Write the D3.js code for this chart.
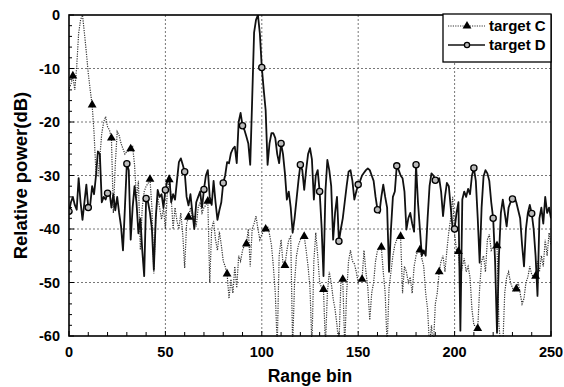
<!DOCTYPE html>
<html>
<head>
<meta charset="utf-8">
<script src="https://cdn.jsdelivr.net/npm/d3@7"></script>
<style>
  body { margin: 0; background: #fff; }
  text { font-family: "Liberation Sans", Arial, sans-serif; font-weight: bold; fill: #000; }
</style>
</head>
<body>
<svg id="chart"></svg>
<script>
// Range bins 0..250
const bins = d3.range(0, 251);

// Relative power (dB) of target C (dotted, triangles)
const targetC = [
  -13.7, -13, -11.4, -14, -9.6, -3.4, -0.9, 0, -3.4, -7,
  -10.9, -14, -16.8, -22.1, -29.6, -30, -26.5, -22.1, -20, -19,
  -20.9, -21.5, -23, -37, -28, -21.8, -22.5, -24, -25, -26,
  -25.5, -25.5, -25, -24.6, -28, -34.5, -31, -43.9, -36, -33,
  -32, -31.5, -30.7, -36, -48.3, -38, -34, -36, -38.2, -36,
  -40, -33, -30.8, -34, -40, -36, -38.5, -40, -37, -41,
  -47.3, -39, -37.8, -36, -38, -37.5, -39.5, -36, -35, -37,
  -36, -35.5, -34.8, -50, -40, -38.5, -42, -44, -40.5, -43,
  -46, -47, -48.4, -53, -49.4, -52, -47, -51, -45, -46,
  -44, -43, -42.8, -40, -47, -40, -39, -37.6, -40, -42,
  -41, -40.5, -40, -39.5, -41, -43, -47, -52, -62, -45,
  -42, -46.5, -46.8, -44, -42, -41.4, -62, -50, -45, -43,
  -42, -41.5, -41.4, -44, -47, -51, -62, -46, -40.7, -45,
  -50, -51, -51.3, -62, -52, -48, -50, -53, -55, -58,
  -62, -50, -49.4, -62, -52, -46, -44, -46, -46.5, -48,
  -50, -49.5, -49.4, -44, -48, -51, -57, -52, -50, -46,
  -44, -43.5, -43.4, -48, -52, -62, -51, -48, -45, -43,
  -42, -41.5, -41.4, -52, -47, -48, -50, -49, -52, -47,
  -45, -44, -43.9, -45.5, -47, -52, -55, -62, -58, -62,
  -54, -52, -48, -46, -45, -48, -44, -40.5, -38, -34,
  -41, -44, -44.2, -49, -47, -45.5, -48, -47, -49, -55,
  -58, -58, -58.6, -51, -46, -45, -48, -42, -41, -44,
  -43.5, -43, -43.1, -58, -62, -62, -52, -49, -48, -50,
  -51, -51.5, -51.2, -50, -52, -54, -53, -50, -49, -47,
  -48.5, -49, -48.8, -46, -48, -45, -47, -42, -45, -40.7,
  -43
];

// Relative power (dB) of target D (solid, circles)
const targetD = [
  -36.7, -35, -34, -35.5, -36.4, -30.5, -35, -38.3, -35, -31.7,
  -36, -35.5, -32, -33.5, -30, -25.5, -26, -35, -34, -34.5,
  -33.3, -33, -36, -33.5, -36.5, -34, -37, -39.5, -44, -36,
  -27.8, -29, -42, -36, -32, -35, -40.8, -38, -44, -48.8,
  -34.3, -35, -37, -40, -47.6, -38, -32.7, -34, -33.5, -36,
  -32.7, -31, -30, -35, -33.5, -34.5, -31, -27.5, -26.8, -28,
  -29.3, -34, -35.6, -33.5, -37, -40, -35, -34, -33, -36,
  -32.6, -30, -29, -34, -35.5, -31, -35, -38.3, -36.5, -35,
  -31.4, -30, -27.5, -27.7, -25.8, -25, -24.6, -27.7, -20, -18.3,
  -20.7, -21.5, -22.7, -24, -28, -15.9, -3.3, -0.9, 0, -3.5,
  -9.8, -14, -17.8, -28, -24, -22.1, -22.1, -23, -26, -27.7,
  -24, -26, -29.6, -34.5, -33, -36, -40.7, -38, -34.5, -31,
  -28, -29, -32.7, -29, -26, -24.9, -27, -34.5, -30, -29,
  -33, -39.5, -48.8, -33, -27.1, -29, -32, -42, -37, -34,
  -42.3, -40, -38, -35, -32, -29.3, -29, -31, -34.5, -33,
  -31.7, -31, -30, -29.5, -29, -28.7, -29, -30, -31, -34,
  -36.4, -37, -34, -31.7, -34, -36, -48, -40, -34, -33,
  -28.2, -29, -30, -30.5, -33, -40.1, -38, -37, -39, -40.5,
  -28, -35, -40, -45, -44, -45, -38, -32, -29.6, -30,
  -30.9, -31, -30.5, -33, -37.6, -34, -31.4, -32, -36, -40,
  -40, -37, -35, -59, -34.5, -33, -34, -32.5, -33.5, -30,
  -28.6, -31, -38, -46.3, -36, -30.2, -29, -29.6, -31, -35,
  -38, -46, -59.4, -45, -37, -34.5, -37, -39.5, -36, -35,
  -34.4, -34, -35, -36.5, -38, -43, -47, -40, -37, -35.5,
  -37.1, -40, -45, -52.5, -38, -36, -39, -34, -37, -36,
  -38
];

const xTicks = [0, 50, 100, 150, 200, 250];
const yTicks = [0, -10, -20, -30, -40, -50, -60];
const seriesNames = ['target C', 'target D'];

const W = 564, H = 387;
const margin = {top: 15, right: 13, bottom: 51, left: 69};
const width = W - margin.left - margin.right;
const height = H - margin.top - margin.bottom;

const svg = d3.select('#chart')
  .attr('width', W)
  .attr('height', H);

const g = svg.append('g')
  .attr('transform', `translate(${margin.left},${margin.top})`);

const x = d3.scaleLinear().domain([0, 250]).range([0, width]);
const y = d3.scaleLinear().domain([-60, 0]).range([height, 0]);

// grid lines
g.append('g')
  .selectAll('line')
  .data(xTicks.slice(1, -1))
  .join('line')
  .attr('x1', d => x(d)).attr('x2', d => x(d))
  .attr('y1', 0).attr('y2', height)
  .attr('stroke', '#777')
  .attr('stroke-width', 1)
  .attr('stroke-dasharray', '2,2');

g.append('g')
  .selectAll('line')
  .data(yTicks.slice(1, -1))
  .join('line')
  .attr('x1', 0).attr('x2', width)
  .attr('y1', d => y(d)).attr('y2', d => y(d))
  .attr('stroke', '#777')
  .attr('stroke-width', 1)
  .attr('stroke-dasharray', '2,2');

// clip for data
svg.append('defs').append('clipPath').attr('id', 'clip')
  .append('rect').attr('width', width).attr('height', height + 1);

const plot = g.append('g').attr('clip-path', 'url(#clip)');

const line = d3.line().x((d, i) => x(bins[i])).y(d => y(d));

plot.append('path')
  .datum(targetC)
  .attr('d', line)
  .attr('fill', 'none')
  .attr('stroke', '#333')
  .attr('stroke-width', 1.2)
  .attr('stroke-dasharray', '1.2,1.2');

plot.append('path')
  .datum(targetD)
  .attr('d', line)
  .attr('fill', 'none')
  .attr('stroke', '#111')
  .attr('stroke-width', 1.8)
  .attr('stroke-linejoin', 'round');

const tri = d3.symbol().type(d3.symbolTriangle).size(34);

// markers C every 10 bins
plot.selectAll('.mc')
  .data(bins.filter(b => b % 10 === 2))
  .join('path')
  .attr('class', 'mc')
  .attr('d', tri)
  .attr('transform', b => `translate(${x(b)},${y(targetC[b])})`)
  .attr('fill', '#000');

// markers D every 10 bins
plot.selectAll('.md')
  .data(bins.filter(b => b % 10 === 0 && b < 250))
  .join('circle')
  .attr('class', 'md')
  .attr('cx', b => x(b))
  .attr('cy', b => y(targetD[b]))
  .attr('r', 3.1)
  .attr('fill', '#bbb')
  .attr('stroke', '#000')
  .attr('stroke-width', 1.3);

// axes with inward ticks
const xAxis = g.append('g').attr('transform', `translate(0,${height})`);
xAxis.selectAll('line')
  .data(d3.range(0, 251, 10))
  .join('line')
  .attr('x1', d => x(d)).attr('x2', d => x(d))
  .attr('y1', 0).attr('y2', d => d % 50 === 0 ? -5 : -4)
  .attr('stroke', '#000').attr('stroke-width', 1);
xAxis.selectAll('text')
  .data(xTicks)
  .join('text')
  .attr('x', d => x(d))
  .attr('y', 21)
  .attr('text-anchor', 'middle')
  .style('font-size', '14.5px')
  .text(d => d);

const yAxis = g.append('g');
yAxis.selectAll('line')
  .data(d3.range(-60, 1, 2))
  .join('line')
  .attr('x1', 0).attr('x2', d => d % 10 === 0 ? 5 : 3)
  .attr('y1', d => y(d)).attr('y2', d => y(d))
  .attr('stroke', '#000').attr('stroke-width', 1);
yAxis.selectAll('text')
  .data(yTicks)
  .join('text')
  .attr('x', -9)
  .attr('y', d => y(d) + 5)
  .attr('text-anchor', 'end')
  .style('font-size', '14.5px')
  .text(d => d);

// frame
g.append('rect')
  .attr('width', width).attr('height', height)
  .attr('fill', 'none')
  .attr('stroke', '#000')
  .attr('stroke-width', 1.6);

// axis titles
svg.append('text')
  .attr('x', margin.left + width / 2)
  .attr('y', 382)
  .attr('text-anchor', 'middle')
  .style('font-size', '17.5px')
  .text('Range bin');

svg.append('text')
  .attr('transform', `translate(27,${margin.top + height / 2}) rotate(-90)`)
  .attr('text-anchor', 'middle')
  .style('font-size', '18.5px')
  .text('Relative power(dB)');

// legend
const lg = svg.append('g').attr('transform', 'translate(443,14)');
lg.append('rect')
  .attr('width', 108).attr('height', 48)
  .attr('fill', '#fff').attr('stroke', '#000').attr('stroke-width', 1.3);

const legendY = [12, 31];
lg.append('line')
  .attr('x1', 5).attr('x2', 42).attr('y1', legendY[0]).attr('y2', legendY[0])
  .attr('stroke', '#333').attr('stroke-width', 1.2).attr('stroke-dasharray', '1.2,1.2');
lg.append('path')
  .attr('d', tri)
  .attr('transform', `translate(24,${legendY[0]})`)
  .attr('fill', '#000');
lg.append('line')
  .attr('x1', 5).attr('x2', 42).attr('y1', legendY[1]).attr('y2', legendY[1])
  .attr('stroke', '#111').attr('stroke-width', 1.6);
lg.append('circle')
  .attr('cx', 24).attr('cy', legendY[1]).attr('r', 2.6)
  .attr('fill', '#bbb').attr('stroke', '#000').attr('stroke-width', 1.3);

lg.selectAll('.lt')
  .data(seriesNames)
  .join('text')
  .attr('class', 'lt')
  .attr('x', 46)
  .attr('y', (d, i) => legendY[i] + 5)
  .style('font-size', '15px')
  .text(d => d);
</script>
</body>
</html>
